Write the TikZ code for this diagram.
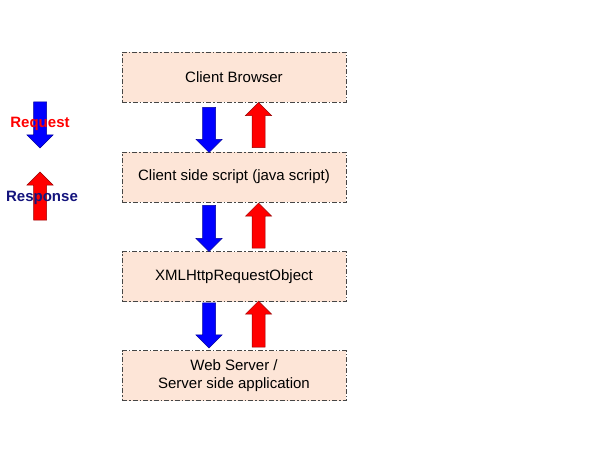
\documentclass[tikz,border=0pt]{standalone}
\usepackage{fontspec}
\setmainfont{Liberation Sans}
\definecolor{boxfill}{RGB}{253,229,215}
\definecolor{boxline}{RGB}{70,70,70}
\definecolor{reqblue}{RGB}{0,0,255}
\definecolor{resred}{RGB}{255,0,0}
\definecolor{navytext}{RGB}{20,20,125}
\newcommand\downarr[3]{%
  \filldraw[#3] (#1) ++(-6.5,0) -- ++(13,0) -- ++(0,#2-13) -- ++(6.5,0) -- ++(-13,13) -- ++(-13,-13) -- ++(6.5,0) -- cycle;}
\newcommand\uparr[3]{%
  \filldraw[#3] (#1) ++(-6.5,0) -- ++(13,0) -- ++(0,-#2+13) -- ++(6.5,0) -- ++(-13,-13) -- ++(-13,13) -- ++(6.5,0) -- cycle;}
\begin{document}
\begin{tikzpicture}[x=1pt,y=-1pt,
  layer/.style={draw=boxline, fill=boxfill, line width=0.8pt,
    dash pattern=on 5pt off 2pt on 1.5pt off 2pt,
    minimum width=224pt, minimum height=50pt, inner sep=0pt,
    align=center, font=\fontsize{15}{17.5}\selectfont},
  reqarrow/.style={fill=reqblue, draw=reqblue!60!black, line width=0.5pt},
  resarrow/.style={fill=resred, draw=resred!60!black, line width=0.5pt},
  legendtext/.style={font=\fontsize{15}{18}\selectfont\bfseries, inner sep=0pt}]
\useasboundingbox (0,0) rectangle (599,449);
\node[layer] (b1) at (234,77) {Client Browser};
\node[layer] (b2) at (234,177) {Client side script (java script)};
\node[layer] (b3) at (234,276.5) {XMLHttpRequestObject};
\node[layer] (b4) at (234,375.5) {Web Server /\\ Server side application};
% row 1
\coordinate (d1) at ([xshift=-25pt,yshift=-5pt]b1.south);
\coordinate (u1) at ([xshift=24.5pt,yshift=4pt]b2.north);
\downarr{d1}{45}{reqarrow}
\uparr{u1}{45}{resarrow}
% row 2
\coordinate (d2) at ([xshift=-25pt,yshift=-3pt]b2.south);
\coordinate (u2) at ([xshift=24.5pt,yshift=3pt]b3.north);
\downarr{d2}{46}{reqarrow}
\uparr{u2}{45}{resarrow}
% row 3
\coordinate (d3) at ([xshift=-25pt,yshift=-1pt]b3.south);
\coordinate (u3) at ([xshift=24.5pt,yshift=3pt]b4.north);
\downarr{d3}{45}{reqarrow}
\uparr{u3}{46}{resarrow}
% legend
\coordinate (ld) at (40,102);
\coordinate (lu) at (40,220);
\downarr{ld}{46}{reqarrow}
\uparr{lu}{48}{resarrow}
\node[legendtext, text=resred] (req) at (40,124) {Request};
\node[legendtext, text=navytext] (res) at (42,198) {Response};
\end{tikzpicture}
\end{document}
